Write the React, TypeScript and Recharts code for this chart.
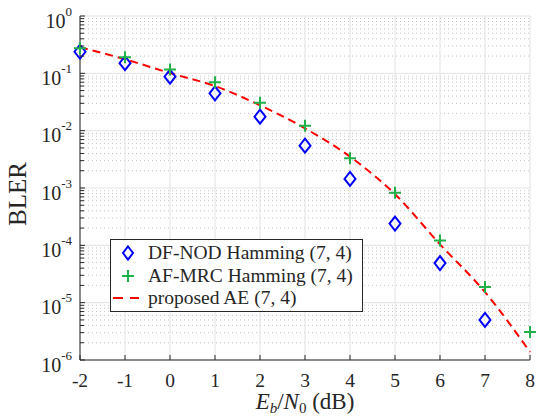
import React from 'react';
import { ComposedChart, Line, XAxis, YAxis, CartesianGrid, Legend } from 'recharts';

// Eb/N0 (dB)
const snrDb = [-2, -1, 0, 1, 2, 3, 4, 5, 6, 7, 8];
// DF-NOD Hamming (7,4)
const dfNod: (number | null)[] = [0.238, 0.15, 0.0875, 0.0448, 0.0175, 0.00547, 0.00144, 2.4e-4, 4.9e-5, 5.0e-6, null];
// AF-MRC Hamming (7,4)
const afMrc = [0.273, 0.19, 0.117, 0.0697, 0.0307, 0.0122, 0.00329, 8.3e-4, 1.22e-4, 1.87e-5, 3.07e-6];
// proposed AE (7,4)
const proposedAe = [0.285, 0.176, 0.101, 0.06, 0.0277, 0.011, 0.00352, 7.8e-4, 1.04e-4, 1.53e-5, 1.38e-6];

const xTicks = [-2, -1, 0, 1, 2, 3, 4, 5, 6, 7, 8];
const yMajorExponents = [-6, -5, -4, -3, -2, -1, 0];
const yMinorMultipliers = [2, 3, 4, 5, 6, 7, 8, 9];

const yMajor = yMajorExponents.map((e) => Math.pow(10, e));
const yMinor: number[] = [];
yMajorExponents.slice(0, -1).forEach((e) => {
  yMinorMultipliers.forEach((m) => yMinor.push(m * Math.pow(10, e)));
});
const yTicks = [...yMajor, ...yMinor].sort((a, b) => a - b);

const data = snrDb.map((x, i) => ({ x, dfNod: dfNod[i], afMrc: afMrc[i], ae: proposedAe[i] }));

const AXIS = '#262626';
const FONT = '"Liberation Serif", "Times New Roman", serif';
const BLUE = '#0000ff';
const GREEN = '#21b14b';
const RED = '#ff0000';

const majorExp = (v: number): number | null => {
  const e = Math.log10(v);
  return Math.abs(e - Math.round(e)) < 1e-6 ? Math.round(e) : null;
};

const LeftTick = (props: any) => {
  const { x, y, payload } = props;
  const e = majorExp(payload.value);
  const len = e !== null ? 5 : 4;
  return (
    <g>
      <line x1={x} x2={x + len} y1={y} y2={y} stroke={AXIS} strokeWidth={1} />
      {e !== null && (
        <text x={x - 8} y={y + 11.5} textAnchor="end" fontFamily={FONT} fontSize={20} fill={AXIS}>
          10
          <tspan dy={-12} fontSize={13}>{String(e)}</tspan>
        </text>
      )}
    </g>
  );
};

const RightTick = (props: any) => {
  const { x, y, payload } = props;
  const e = majorExp(payload.value);
  const len = e !== null ? 5 : 4;
  return <line x1={x} x2={x - len} y1={y} y2={y} stroke={AXIS} strokeWidth={1} />;
};

const BottomTick = (props: any) => {
  const { x, y, payload } = props;
  return (
    <g>
      <line x1={x} x2={x} y1={y} y2={y - 5} stroke={AXIS} strokeWidth={1} />
      <text x={x} y={y + 27} textAnchor="middle" fontFamily={FONT} fontSize={19.5} fill={AXIS}>
        {String(payload.value)}
      </text>
    </g>
  );
};

const TopTick = (props: any) => {
  const { x, y } = props;
  return <line x1={x} x2={x} y1={y} y2={y + 5} stroke={AXIS} strokeWidth={1} />;
};

const XLabel = (props: any) => {
  const vb = props.viewBox || {};
  const cx = vb.x + vb.width / 2;
  const y = vb.y + 49;
  return (
    <text x={cx} y={y} textAnchor="middle" fontFamily={FONT} fontSize={23} fill={AXIS}>
      <tspan fontStyle="italic">E</tspan>
      <tspan fontStyle="italic" fontSize={15} dy={4}>b</tspan>
      <tspan dy={-4}>/</tspan>
      <tspan fontStyle="italic">N</tspan>
      <tspan fontSize={15} dy={4}>0</tspan>
      <tspan dy={-4}> (dB)</tspan>
    </text>
  );
};

const YLabel = (props: any) => {
  const vb = props.viewBox || {};
  const cx = vb.x + 17;
  const cy = vb.y + vb.height / 2 + 6;
  return (
    <text
      x={cx}
      y={cy}
      textAnchor="middle"
      dominantBaseline="central"
      transform={`rotate(-90, ${cx}, ${cy})`}
      fontFamily={FONT}
      fontSize={25}
      fill={AXIS}
    >
      BLER
    </text>
  );
};

const Diamond = (props: any) => {
  const { cx, cy, value } = props;
  if (value === null || value === undefined || cx == null || cy == null) return null;
  return (
    <path
      d={`M${cx},${cy - 7} L${cx + 5.5},${cy} L${cx},${cy + 7} L${cx - 5.5},${cy} Z`}
      fill="none"
      stroke={BLUE}
      strokeWidth={2}
    />
  );
};

const Plus = (props: any) => {
  const { cx, cy, value } = props;
  if (value === null || value === undefined || cx == null || cy == null) return null;
  return (
    <path
      d={`M${cx - 6},${cy} L${cx + 6},${cy} M${cx},${cy - 6} L${cx},${cy + 6}`}
      fill="none"
      stroke={GREEN}
      strokeWidth={2}
    />
  );
};

const legendItems = [
  { label: 'DF-NOD Hamming (7, 4)', kind: 'diamond' },
  { label: 'AF-MRC Hamming (7, 4)', kind: 'plus' },
  { label: 'proposed AE (7, 4)', kind: 'dash' },
];
const rowCenters = [13.7, 37, 58.7];

const LegendBox = () => (
  <div
    style={{
      position: 'relative',
      boxSizing: 'border-box',
      width: 253,
      height: 73,
      border: `1px solid ${AXIS}`,
      background: '#ffffff',
      fontFamily: FONT,
      fontSize: 19.5,
      color: AXIS,
    }}
  >
    {legendItems.map((it, i) => (
      <div key={it.label} style={{ position: 'absolute', left: 0, top: rowCenters[i] - 1 - 10, height: 20, width: 251 }}>
        <svg width={34} height={20} style={{ position: 'absolute', left: 0, top: 0 }}>
          {it.kind === 'diamond' && (
            <path d="M17,3.5 L22,10 L17,16.5 L12,10 Z" fill="none" stroke={BLUE} strokeWidth={2} />
          )}
          {it.kind === 'plus' && (
            <path d="M11,10 L23,10 M17,4 L17,16" fill="none" stroke={GREEN} strokeWidth={2} />
          )}
          {it.kind === 'dash' && (
            <path d="M2,10 L12,10 M19,10 L28,10" fill="none" stroke={RED} strokeWidth={2} />
          )}
        </svg>
        <span style={{ position: 'absolute', left: 37, top: 0, lineHeight: '20px', whiteSpace: 'nowrap' }}>
          {it.label}
        </span>
      </div>
    ))}
  </div>
);

export default function App() {
  return (
    <div style={{ position: 'fixed', left: 0, top: 0, width: 537, height: 417, background: '#ffffff' }}>
      <ComposedChart width={537} height={417} data={data} margin={{ top: 16, right: 7, bottom: 0, left: 0 }}>
        <CartesianGrid
          vertical={false}
          horizontalValues={yMinor}
          stroke="#c4c4c4"
          strokeDasharray="1 3"
          strokeWidth={1}
        />
        <CartesianGrid horizontalValues={yMajor} verticalValues={xTicks} stroke="#e2e2e2" strokeWidth={1} />
        <XAxis
          dataKey="x"
          type="number"
          domain={[-2, 8]}
          ticks={xTicks}
          interval={0}
          height={57}
          tickLine={false}
          tickSize={0}
          tickMargin={0}
          axisLine={{ stroke: AXIS }}
          tick={<BottomTick />}
          label={XLabel}
        />
        <XAxis
          xAxisId="top"
          orientation="top"
          type="number"
          domain={[-2, 8]}
          ticks={xTicks}
          interval={0}
          allowDataOverflow
          height={0}
          tickLine={false}
          tickSize={0}
          tickMargin={0}
          axisLine={{ stroke: AXIS }}
          tick={<TopTick />}
        />
        <YAxis
          type="number"
          scale="log"
          domain={[1e-6, 1]}
          ticks={yTicks}
          interval={0}
          width={80}
          tickLine={false}
          tickSize={0}
          tickMargin={0}
          axisLine={{ stroke: AXIS }}
          tick={<LeftTick />}
          label={YLabel}
        />
        <YAxis
          yAxisId="right"
          orientation="right"
          type="number"
          scale="log"
          domain={[1e-6, 1]}
          ticks={yTicks}
          interval={0}
          allowDataOverflow
          width={0}
          tickLine={false}
          tickSize={0}
          tickMargin={0}
          axisLine={{ stroke: AXIS }}
          tick={<RightTick />}
        />
        <Line
          dataKey="ae"
          type="monotone"
          stroke={RED}
          strokeWidth={2}
          strokeDasharray="8 5"
          dot={false}
          activeDot={false}
          isAnimationActive={false}
        />
        <Line
          dataKey="dfNod"
          stroke="none"
          dot={<Diamond />}
          activeDot={false}
          isAnimationActive={false}
        />
        <Line
          dataKey="afMrc"
          stroke="none"
          dot={<Plus />}
          activeDot={false}
          isAnimationActive={false}
        />
        <Legend
          layout="vertical"
          align="center"
          verticalAlign="middle"
          wrapperStyle={{ left: 110, top: 239, width: 253, height: 73 }}
          content={() => <LegendBox />}
        />
      </ComposedChart>
    </div>
  );
}
